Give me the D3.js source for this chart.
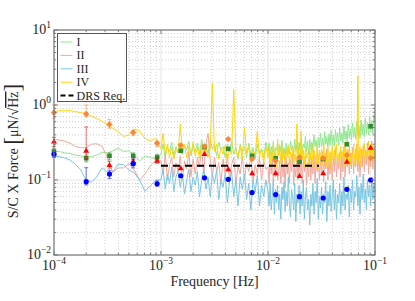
<!DOCTYPE html>
<html>
<head>
<meta charset="utf-8">
<script src="https://cdn.jsdelivr.net/npm/d3@7"></script>
<style>
body { margin: 0; background: #fff; }
svg text { font-family: 'Liberation Serif', serif; fill: #262626; }
</style>
</head>
<body>
<div id="chart"></div>
<script>
// chart size follows the reference picture
var svgWidth = 415;
var svgHeight = 301;

var margin = { top: 30, right: 40, bottom: 46, left: 54 };
var width = svgWidth - margin.left - margin.right;
var height = svgHeight - margin.top - margin.bottom;

// ---- data ----
var seriesNames = ["I", "II", "III", "IV"];

// low frequency part (smooth)
var lowFreq = [1.00e-4, 1.12e-4, 1.26e-4, 1.41e-4, 1.58e-4, 1.78e-4, 2.00e-4, 2.24e-4, 2.51e-4, 2.82e-4,
               3.16e-4, 3.55e-4, 3.98e-4, 4.47e-4, 5.01e-4, 5.62e-4, 6.31e-4, 7.08e-4, 7.94e-4, 8.91e-4];
// grid mantissas: 1-10 mHz decade, then a finer one for 10-100 mHz
var midMant = [1.000, 1.047, 1.096, 1.148, 1.202, 1.259, 1.318, 1.380, 1.445, 1.514,
               1.585, 1.660, 1.738, 1.820, 1.905, 1.995, 2.089, 2.188, 2.291, 2.399,
               2.512, 2.630, 2.754, 2.884, 3.020, 3.162, 3.311, 3.467, 3.631, 3.802,
               3.981, 4.169, 4.365, 4.571, 4.786, 5.012, 5.248, 5.495, 5.754, 6.026,
               6.310, 6.607, 6.918, 7.244, 7.586, 7.943, 8.318, 8.710, 9.120, 9.550];
var highMant = [1.000, 1.023, 1.047, 1.072, 1.096, 1.122, 1.148, 1.175, 1.202, 1.230,
                1.259, 1.288, 1.318, 1.349, 1.380, 1.413, 1.445, 1.479, 1.514, 1.549,
                1.585, 1.622, 1.660, 1.698, 1.738, 1.778, 1.820, 1.862, 1.905, 1.950,
                1.995, 2.042, 2.089, 2.138, 2.188, 2.239, 2.291, 2.344, 2.399, 2.455,
                2.512, 2.570, 2.630, 2.692, 2.754, 2.818, 2.884, 2.951, 3.020, 3.090,
                3.162, 3.236, 3.311, 3.388, 3.467, 3.548, 3.631, 3.715, 3.802, 3.890,
                3.981, 4.074, 4.169, 4.266, 4.365, 4.467, 4.571, 4.677, 4.786, 4.898,
                5.012, 5.129, 5.248, 5.370, 5.495, 5.623, 5.754, 5.888, 6.026, 6.166,
                6.310, 6.457, 6.607, 6.761, 6.918, 7.079, 7.244, 7.413, 7.586, 7.762,
                7.943, 8.128, 8.318, 8.511, 8.710, 8.913, 9.120, 9.333, 9.550, 9.772, 10.0];

var lowI = [0.24, 0.24, 0.23, 0.226, 0.215, 0.21, 0.2, 0.205, 0.215, 0.235, 0.23, 0.245, 0.265, 0.24, 0.245, 0.21, 0.18, 0.21, 0.2, 0.19];
var lowII = [0.35, 0.34, 0.33, 0.31, 0.28, 0.27, 0.27, 0.3, 0.305, 0.28, 0.2, 0.126, 0.145, 0.145, 0.165, 0.136, 0.1, 0.12, 0.155, 0.18];
var lowIII = [0.21, 0.205, 0.197, 0.185, 0.163, 0.136, 0.1, 0.094, 0.11, 0.145, 0.128, 0.128, 0.163, 0.16, 0.136, 0.125, 0.1, 0.071, 0.083, 0.1];
var lowIV = [0.81, 0.84, 0.84, 0.84, 0.82, 0.79, 0.76, 0.71, 0.66, 0.61, 0.54, 0.49, 0.44, 0.38, 0.40, 0.48, 0.45, 0.36, 0.33, 0.36];

// 1-10 mHz
var midI = [0.22, 0.3, 0.2, 0.27, 0.24, 0.32, 0.21, 0.28, 0.23, 0.3,
  0.22, 0.29, 0.25, 0.33, 0.21, 0.28, 0.24, 0.31, 0.22, 0.35,
  0.24, 0.3, 0.22, 0.34, 0.26, 0.29, 0.21, 0.32, 0.25, 0.28,
  0.2, 0.3, 0.24, 0.33, 0.22, 0.27, 0.19, 0.3, 0.23, 0.28,
  0.2, 0.31, 0.22, 0.27, 0.19, 0.3, 0.23, 0.26, 0.2, 0.32];
var midII = [0.18, 0.12, 0.22, 0.1, 0.16, 0.2, 0.11, 0.17, 0.13, 0.21,
  0.1, 0.18, 0.14, 0.24, 0.11, 0.19, 0.12, 0.2, 0.15, 0.26,
  0.12, 0.3, 0.42, 0.18, 0.11, 0.2, 0.13, 0.17, 0.09, 0.19,
  0.12, 0.22, 0.1, 0.16, 0.2, 0.09, 0.15, 0.12, 0.21, 0.1,
  0.17, 0.13, 0.22, 0.095, 0.16, 0.12, 0.2, 0.1, 0.18, 0.14];
var midIII = [0.1, 0.14, 0.075, 0.12, 0.09, 0.15, 0.07, 0.11, 0.13, 0.08,
  0.12, 0.065, 0.1, 0.14, 0.07, 0.11, 0.085, 0.13, 0.06, 0.1,
  0.14, 0.075, 0.11, 0.06, 0.12, 0.09, 0.135, 0.055, 0.1, 0.08,
  0.12, 0.05, 0.095, 0.13, 0.06, 0.1, 0.045, 0.11, 0.075, 0.12,
  0.055, 0.09, 0.04, 0.1, 0.07, 0.115, 0.045, 0.085, 0.06, 0.1];
var midIV = [0.26, 0.42, 0.22, 0.3, 0.2, 0.27, 0.19, 0.25, 0.23, 0.55,
  0.24, 0.3, 0.2, 0.28, 0.22, 0.32, 0.21, 0.27, 0.19, 0.3,
  0.23, 0.28, 0.2, 0.26, 1.95, 0.24, 0.3, 0.19, 0.27, 0.22,
  0.29, 0.18, 0.26, 0.22, 1.6, 0.25, 0.2, 0.28, 0.19, 0.5,
  0.23, 0.27, 0.18, 0.25, 0.21, 0.45, 0.2, 0.26, 0.17, 0.28];

// 10-100 mHz
var highI = [0.24, 0.31, 0.21, 0.28, 0.23, 0.33, 0.2, 0.27, 0.25, 0.3,
  0.21, 0.29, 0.24, 0.34, 0.22, 0.27, 0.2, 0.31, 0.23, 0.28,
  0.22, 0.33, 0.25, 0.29, 0.21, 0.35, 0.24, 0.3, 0.22, 0.32,
  0.25, 0.36, 0.23, 0.3, 0.27, 0.38, 0.24, 0.33, 0.22, 0.35,
  0.26, 0.32, 0.24, 0.4, 0.28, 0.34, 0.25, 0.37, 0.27, 0.42,
  0.28, 0.36, 0.26, 0.44, 0.3, 0.38, 0.27, 0.41, 0.29, 0.46,
  0.3, 0.4, 0.28, 0.47, 0.32, 0.43, 0.29, 0.5, 0.33, 0.42,
  0.31, 0.52, 0.35, 0.45, 0.32, 0.55, 0.36, 0.48, 0.34, 0.58,
  0.37, 0.5, 0.35, 0.6, 0.39, 0.53, 0.36, 0.63, 0.4, 0.56,
  0.38, 0.66, 0.42, 0.58, 0.4, 0.7, 0.44, 0.62, 0.41, 0.75, 0.6];
var highII = [0.15, 0.09, 0.19, 0.12, 0.22, 0.085, 0.17, 0.11, 0.2, 0.1,
  0.13, 0.18, 0.09, 0.23, 0.11, 0.16, 0.08, 0.2, 0.12, 0.17,
  0.09, 0.19, 0.13, 0.22, 0.085, 0.16, 0.11, 0.2, 0.1, 0.18,
  0.12, 0.24, 0.09, 0.19, 0.13, 0.21, 0.085, 0.17, 0.11, 0.23,
  0.1, 0.2, 0.12, 0.25, 0.09, 0.18, 0.13, 0.22, 0.1, 0.19,
  0.12, 0.24, 0.095, 0.2, 0.14, 0.26, 0.1, 0.19, 0.12, 0.23,
  0.1, 0.21, 0.13, 0.27, 0.11, 0.2, 0.14, 0.24, 0.1, 0.22,
  0.13, 0.28, 0.11, 0.21, 0.15, 0.25, 0.12, 0.23, 0.14, 0.27,
  0.12, 0.22, 0.15, 0.3, 0.13, 0.24, 0.11, 0.26, 0.15, 0.29,
  0.13, 0.25, 0.16, 0.31, 0.12, 0.27, 0.15, 0.33, 0.14, 0.28, 0.2];
var highIII = [0.07, 0.045, 0.09, 0.04, 0.06, 0.1, 0.035, 0.075, 0.05, 0.085,
  0.04, 0.065, 0.03, 0.08, 0.055, 0.095, 0.038, 0.07, 0.045, 0.11,
  0.05, 0.032, 0.075, 0.06, 0.04, 0.09, 0.028, 0.065, 0.05, 0.085,
  0.035, 0.07, 0.045, 0.1, 0.03, 0.06, 0.08, 0.04, 0.055, 0.025,
  0.065, 0.045, 0.09, 0.035, 0.07, 0.05, 0.105, 0.03, 0.06, 0.042,
  0.08, 0.035, 0.065, 0.05, 0.095, 0.028, 0.07, 0.045, 0.085, 0.038,
  0.06, 0.1, 0.04, 0.075, 0.03, 0.065, 0.05, 0.09, 0.035, 0.07,
  0.045, 0.11, 0.04, 0.065, 0.055, 0.085, 0.032, 0.075, 0.05, 0.1,
  0.04, 0.07, 0.06, 0.115, 0.045, 0.08, 0.035, 0.09, 0.055, 0.12,
  0.05, 0.075, 0.04, 0.1, 0.06, 0.085, 0.045, 0.11, 0.055, 0.09, 0.07];
var highIV = [0.2, 0.27, 0.16, 0.24, 0.19, 0.3, 0.17, 0.23, 0.15, 0.35,
  0.21, 0.26, 0.17, 0.28, 0.19, 0.23, 0.15, 0.25, 0.2, 0.29,
  0.16, 0.24, 0.19, 0.27, 0.15, 0.22, 0.18, 0.56, 0.2, 0.26,
  0.17, 0.45, 0.19, 0.25, 0.15, 0.28, 0.2, 0.23, 0.16, 0.27,
  0.19, 0.3, 0.15, 0.24, 0.21, 0.17, 0.28, 0.14, 0.25, 0.19,
  0.26, 0.16, 0.31, 0.2, 0.23, 0.15, 0.27, 0.18, 0.24, 0.14,
  0.29, 0.19, 0.25, 0.16, 0.3, 0.18, 0.22, 0.15, 0.28, 0.2,
  0.24, 0.15, 0.32, 0.19, 0.26, 0.17, 0.29, 0.16, 0.23, 0.2,
  0.3, 0.16, 0.26, 0.19, 2.44, 0.17, 0.28, 0.15, 0.25, 0.21,
  0.31, 0.17, 0.24, 0.2, 0.33, 0.15, 0.27, 0.19, 0.3, 0.18, 0.26];

// averaged points with error bars
var markFreq = [1e-4, 2e-4, 3.3e-4, 5.5e-4, 9.2e-4, 1.53e-3, 2.55e-3, 4.25e-3, 7.1e-3, 1.18e-2, 1.97e-2, 3.28e-2, 5.46e-2, 9.1e-2];
var markI = [0.24, 0.195, 0.21, 0.21, 0.2, 0.245, 0.275, 0.26, 0.21, 0.195, 0.175, 0.19, 0.30, 0.52];
var markII = [0.325, 0.245, 0.158, 0.175, 0.18, 0.143, 0.222, 0.139, 0.123, 0.123, 0.113, 0.123, 0.175, 0.27];
var markIII = [0.22, 0.095, 0.12, 0.165, 0.089, 0.114, 0.107, 0.102, 0.068, 0.064, 0.06, 0.0575, 0.075, 0.1];
var markIV = [0.79, 0.76, 0.55, 0.43, 0.31, 0.29, 0.28, 0.35, 0.19, 0.18, 0.2, 0.195, 0.215, 0.195];

var errLoI = [0.22, 0.175, 0.185, 0.18, 0.18];
var errHiI = [0.26, 0.215, 0.23, 0.23, 0.22];
var errLoII = [0.28, 0.19, 0.144, 0.16, 0.167];
var errHiII = [0.37, 0.51, 0.176, 0.19, 0.2];
var errLoIII = [0.2, 0.086, 0.105, 0.145, 0.083];
var errHiIII = [0.235, 0.146, 0.135, 0.19, 0.097];
var errLoIV = [0.67, 0.7, 0.49, 0.39, 0.28];
var errHiIV = [1.0, 1.0, 0.64, 0.46, 0.33];

// requirement line
var drsFreq = [1e-3, 3e-2];
var drsLevel = [0.155, 0.155];

var xTickLabels = ["10^-4", "10^-3", "10^-2", "10^-1"];
var yTickLabels = ["10^-2", "10^-1", "10^0", "10^1"];

// ---- build tables ----
var freqAll = lowFreq
    .concat(midMant.map(m => m * 1e-3))
    .concat(highMant.map(m => m * 1e-2));
var lineVals = [
    lowI.concat(midI, highI),
    lowII.concat(midII, highII),
    lowIII.concat(midIII, highIII),
    lowIV.concat(midIV, highIV)
];
var lineColors = ["#8fe88f", "#f2a79d", "#78c6e2", "#ffd60a"];
var markVals = [markI, markII, markIII, markIV];
var markColors = ["#2e8b2e", "#ff0000", "#0000ff", "#f5883a"];
var errLo = [errLoI, errLoII, errLoIII, errLoIV];
var errHi = [errHiI, errHiII, errHiIII, errHiIV];

var svg = d3.select("#chart")
    .append("svg")
    .attr("width", svgWidth)
    .attr("height", svgHeight)
    .attr("style", "font-family: 'Liberation Serif', serif");

var chartGroup = svg.append("g")
    .attr("transform", `translate(${margin.left}, ${margin.top})`);

var xScale = d3.scaleLog().domain([1e-4, 1e-1]).range([0, width]);
var yScale = d3.scaleLog().domain([1e-2, 1e1]).range([height, 0]);

// grid
function isDecade(t) { return Math.abs(Math.log10(t) - Math.round(Math.log10(t))) < 1e-6; }
var xMinor = xScale.ticks().filter(t => !isDecade(t));
var yMinor = yScale.ticks().filter(t => !isDecade(t));
var xMajor = [1e-4, 1e-3, 1e-2, 1e-1];
var yMajor = [1e-2, 1e-1, 1e0, 1e1];

chartGroup.selectAll(".xminor").data(xMinor).enter().append("line")
    .attr("x1", d => xScale(d)).attr("x2", d => xScale(d))
    .attr("y1", 0).attr("y2", height)
    .attr("stroke", "#cfcfcf").attr("stroke-dasharray", "1,2");
chartGroup.selectAll(".yminor").data(yMinor).enter().append("line")
    .attr("y1", d => yScale(d)).attr("y2", d => yScale(d))
    .attr("x1", 0).attr("x2", width)
    .attr("stroke", "#cfcfcf").attr("stroke-dasharray", "1,2");
chartGroup.selectAll(".xmajor").data(xMajor).enter().append("line")
    .attr("x1", d => xScale(d)).attr("x2", d => xScale(d))
    .attr("y1", 0).attr("y2", height)
    .attr("stroke", "#e4e4e4");
chartGroup.selectAll(".ymajor").data(yMajor).enter().append("line")
    .attr("y1", d => yScale(d)).attr("y2", d => yScale(d))
    .attr("x1", 0).attr("x2", width)
    .attr("stroke", "#e4e4e4");

// spectra
var line = d3.line()
    .x((d, i) => xScale(freqAll[i]))
    .y(d => yScale(d));

lineVals.forEach((vals, s) => {
    chartGroup.append("path")
        .datum(vals)
        .attr("d", line)
        .attr("fill", "none")
        .attr("stroke", lineColors[s])
        .attr("stroke-width", 1)
        .attr("stroke-linejoin", "round");
});

// DRS requirement
chartGroup.append("path")
    .datum(drsLevel)
    .attr("d", d3.line().x((d, i) => xScale(drsFreq[i])).y(d => yScale(d)))
    .attr("stroke", "#000")
    .attr("stroke-width", 2)
    .attr("stroke-dasharray", "7,5");

// error bars and markers
markVals.forEach((vals, s) => {
    var c = markColors[s];
    var g = chartGroup.append("g");
    errLo[s].forEach((lo, i) => {
        var x = xScale(markFreq[i]);
        var y1 = yScale(lo), y2 = yScale(errHi[s][i]);
        g.append("line").attr("x1", x).attr("x2", x).attr("y1", y1).attr("y2", y2)
            .attr("stroke", c).attr("stroke-opacity", 0.55);
        [y1, y2].forEach(y => g.append("line")
            .attr("x1", x - 2).attr("x2", x + 2).attr("y1", y).attr("y2", y)
            .attr("stroke", c).attr("stroke-opacity", 0.55));
    });
    vals.forEach((v, i) => {
        var x = xScale(markFreq[i]), y = yScale(v);
        if (s === 0) {
            g.append("rect").attr("x", x - 2.3).attr("y", y - 2.3).attr("width", 4.6).attr("height", 4.6).attr("fill", c);
        } else if (s === 1) {
            g.append("path").attr("d", `M${x},${y - 3.2}L${x + 3},${y + 2}L${x - 3},${y + 2}Z`).attr("fill", c);
        } else if (s === 2) {
            g.append("circle").attr("cx", x).attr("cy", y).attr("r", 2.6).attr("fill", c);
        } else {
            g.append("circle").attr("cx", x).attr("cy", y).attr("r", 2.4).attr("fill", c);
            g.append("path").attr("d", `M${x - 3},${y}H${x + 3}M${x},${y - 3}V${y + 3}`)
                .attr("stroke", c).attr("stroke-width", 1);
        }
    });
});

// axes box and ticks (inward, all four sides)
var axisColor = "#7a7a7a";
chartGroup.append("rect")
    .attr("x", 0).attr("y", 0).attr("width", width).attr("height", height)
    .attr("fill", "none").attr("stroke", axisColor).attr("stroke-width", 1.2);

function tickLen(t) { return isDecade(t) ? 4 : 2.2; }
xScale.ticks().forEach(t => {
    var x = xScale(t), l = tickLen(t);
    chartGroup.append("line").attr("x1", x).attr("x2", x).attr("y1", height).attr("y2", height - l).attr("stroke", axisColor);
    chartGroup.append("line").attr("x1", x).attr("x2", x).attr("y1", 0).attr("y2", l).attr("stroke", axisColor);
});
yScale.ticks().forEach(t => {
    var y = yScale(t), l = tickLen(t);
    chartGroup.append("line").attr("y1", y).attr("y2", y).attr("x1", 0).attr("x2", l).attr("stroke", axisColor);
    chartGroup.append("line").attr("y1", y).attr("y2", y).attr("x1", width).attr("x2", width - l).attr("stroke", axisColor);
});

// tick labels
function powLabel(sel, lab) {
    var parts = lab.split("^");
    sel.append("tspan").text(parts[0]);
    sel.append("tspan").attr("dy", -6).attr("font-size", 9.5).text(parts[1].replace("-", "\u2212"));
}
xMajor.forEach((t, i) => {
    var txt = chartGroup.append("text")
        .attr("x", xScale(t)).attr("y", height + 15)
        .attr("text-anchor", "middle").attr("font-size", 14);
    powLabel(txt, xTickLabels[i]);
});
yMajor.forEach((t, i) => {
    var txt = chartGroup.append("text")
        .attr("x", -3).attr("y", yScale(t) + 4)
        .attr("text-anchor", "end").attr("font-size", 14);
    powLabel(txt, yTickLabels[i]);
});

// axis titles
svg.append("text")
    .attr("x", margin.left + width / 2).attr("y", 286)
    .attr("text-anchor", "middle").attr("font-size", 14)
    .text("Frequency [Hz]");

var yLab = svg.append("text")
    .attr("transform", "translate(18,151) rotate(-90)")
    .attr("text-anchor", "middle").attr("font-size", 14);
yLab.append("tspan").text("S/C X Force ");
yLab.append("tspan").attr("font-size", 23).attr("dy", 2).text("[");
yLab.append("tspan").attr("font-size", 14).attr("dy", -2).text("\u03bcN/\u221a");
yLab.append("tspan").attr("style", "text-decoration: overline").text("Hz");
yLab.append("tspan").attr("font-size", 23).attr("dy", 2).text("]");

// legend
var legend = svg.append("g").attr("transform", "translate(57.5,33.5)");
legend.append("rect").attr("width", 69).attr("height", 68)
    .attr("fill", "#fff").attr("stroke", "#555").attr("stroke-width", 1);
var legItems = seriesNames.concat(["DRS Req."]);
legItems.forEach((name, i) => {
    var y = 8.5 + i * 13.4;
    if (i < 4) {
        legend.append("line").attr("x1", 3).attr("x2", 15).attr("y1", y).attr("y2", y)
            .attr("stroke", lineColors[i]).attr("stroke-width", 1);
    } else {
        legend.append("line").attr("x1", 3).attr("x2", 16).attr("y1", y).attr("y2", y)
            .attr("stroke", "#000").attr("stroke-width", 2).attr("stroke-dasharray", "5,3");
    }
    legend.append("text").attr("x", 19).attr("y", y + 4).attr("font-size", 12).text(name);
});
</script>
</body>
</html>
